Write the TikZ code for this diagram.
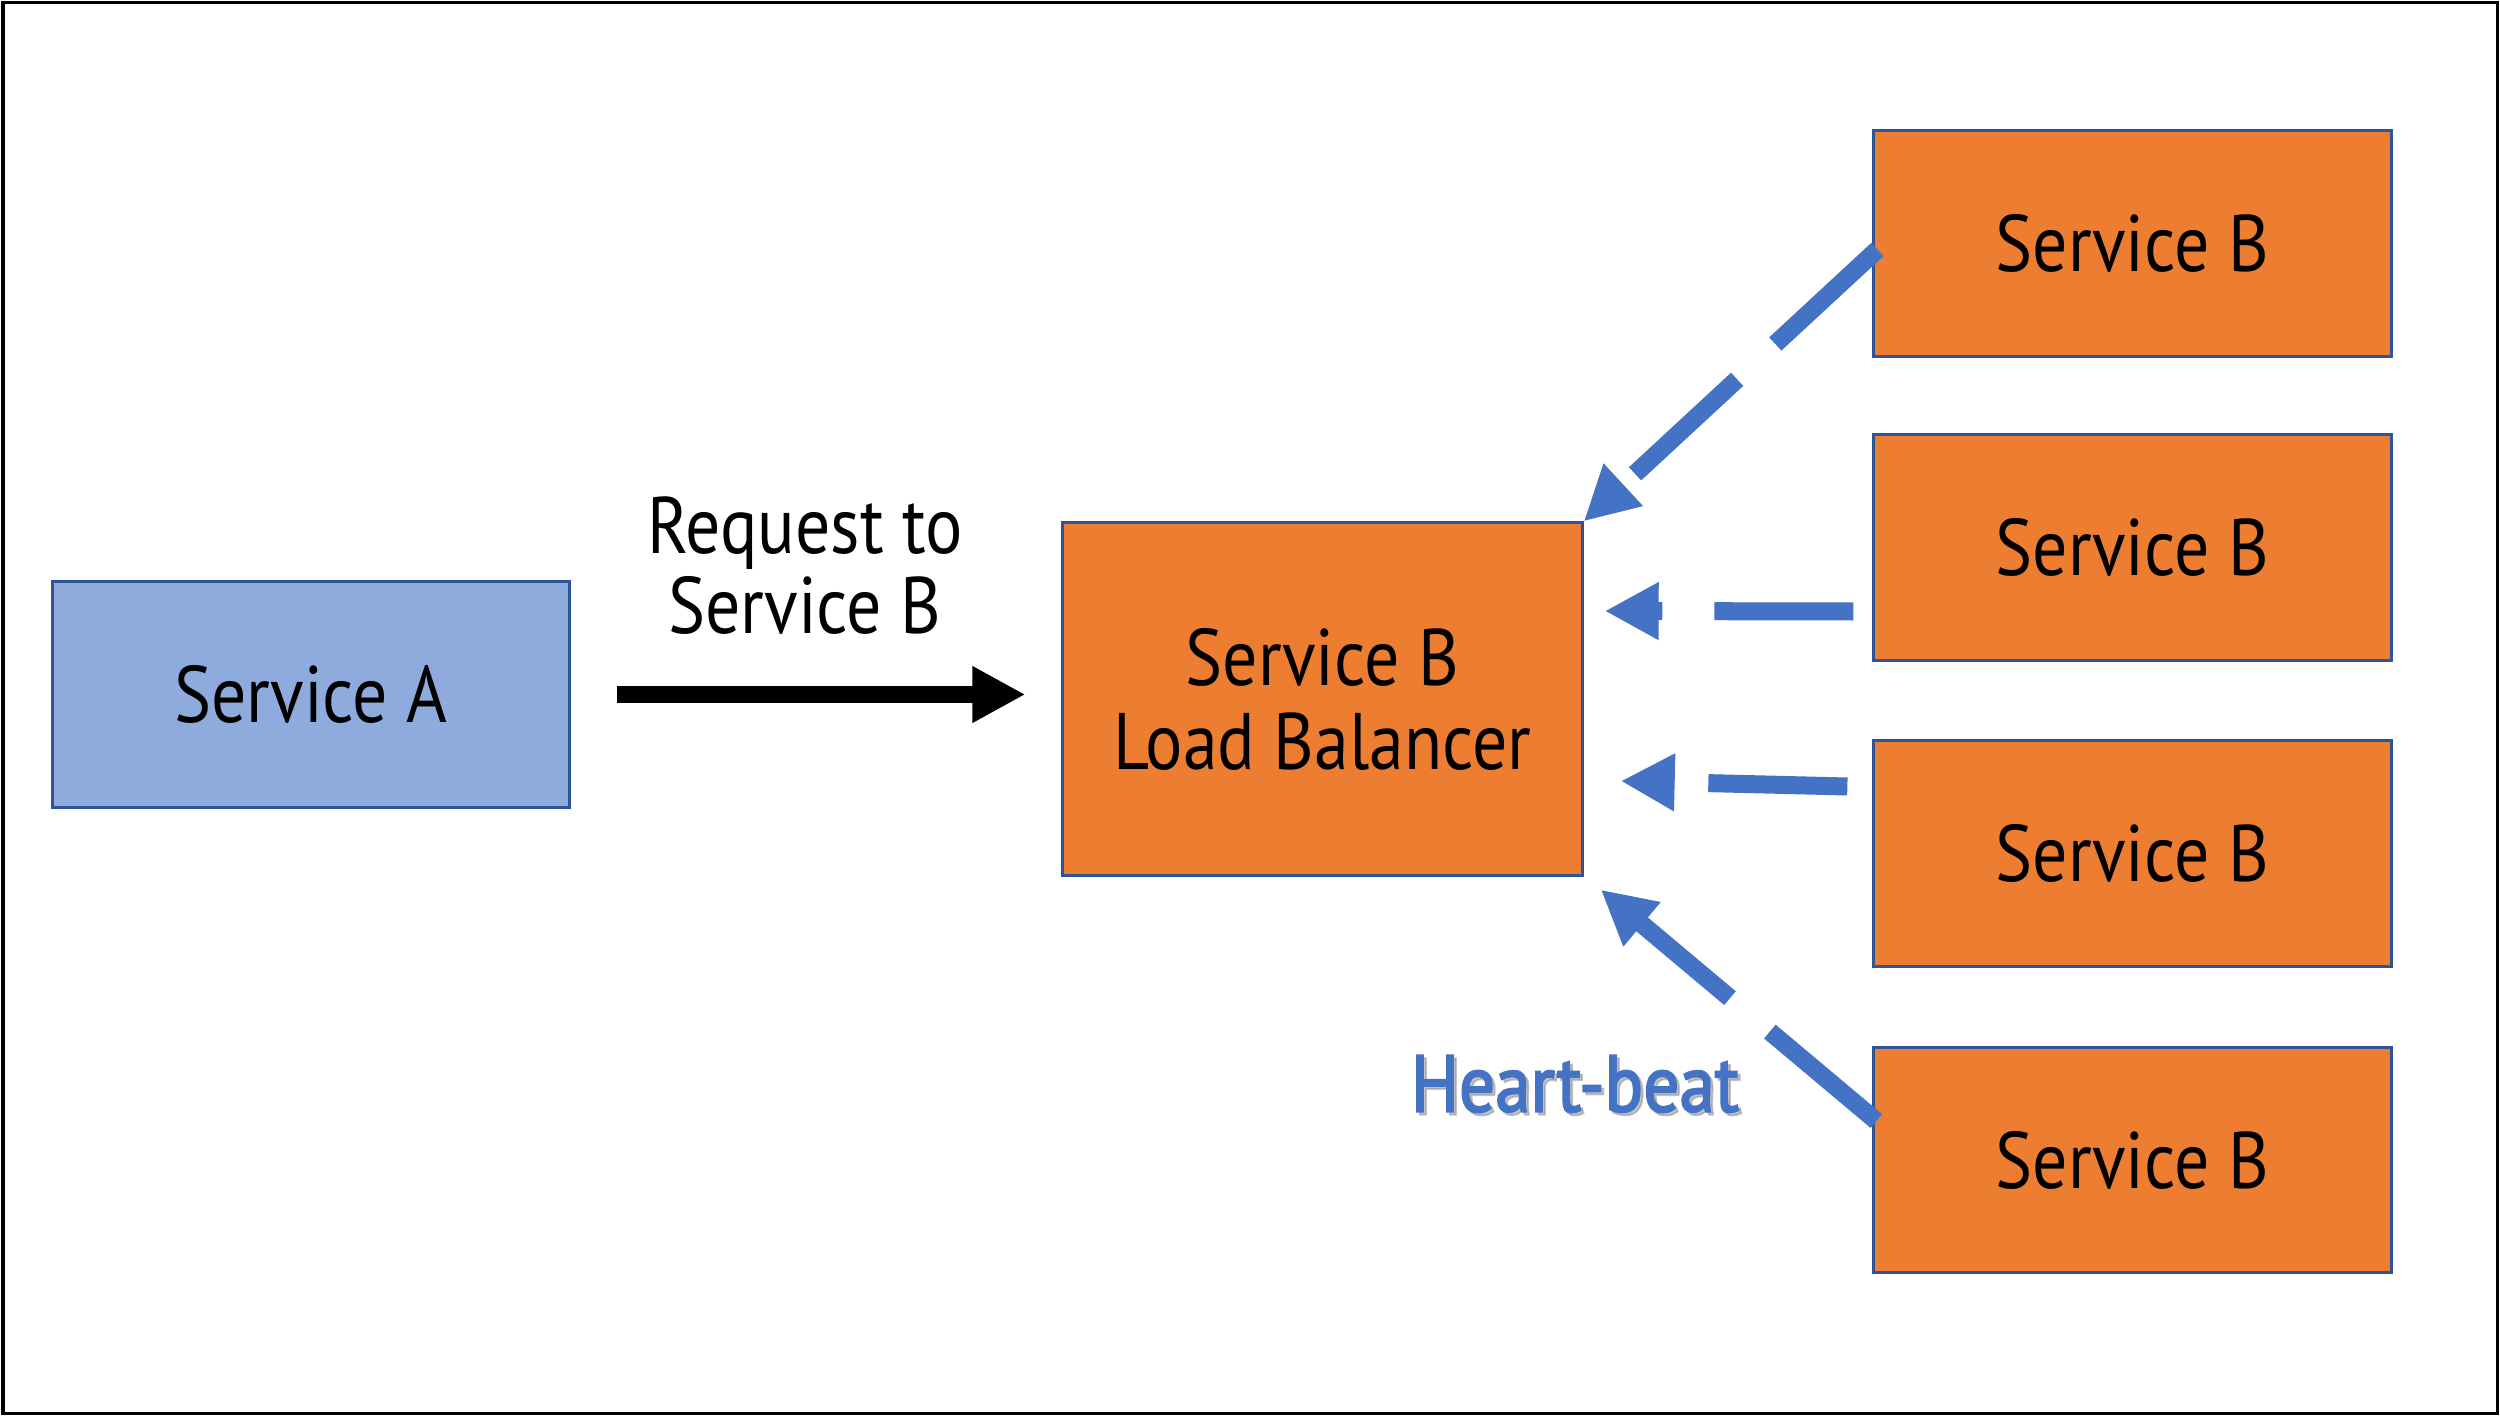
\documentclass[tikz,border=0pt]{standalone}
\usepackage{fontspec}
\setmainfont[FakeStretch=0.87]{PT Sans}
\newfontfamily\hbfont[FakeStretch=0.89,FakeBold=2.4]{PT Sans}
\usetikzlibrary{arrows.meta,calc}
\definecolor{orangeB}{HTML}{ED7D31}
\definecolor{edgeB}{HTML}{2F5597}
\definecolor{fillA}{HTML}{8FAADC}
\definecolor{beat}{HTML}{4472C4}
\begin{document}
\begin{tikzpicture}[x=0.01cm,y=-0.01cm,
  box/.style={draw=edgeB, line width=0.03cm, inner sep=0pt, align=center,
    font=\fontsize{22.8}{23.9}\selectfont},
  smallbox/.style={box, minimum width=5.17cm, minimum height=2.25cm},
  sbox/.style={smallbox, fill=orangeB},
  beatarrow/.style={draw=beat, line width=0.18cm, dash pattern=on 1.39cm off 0.52cm,
    -{Triangle[length=0.54cm,width=0.54cm]}},
  reqarrow/.style={draw=black, line width=0.175cm, -{Triangle[length=0.53cm,width=0.53cm]}},
  lbl/.style={inner sep=0pt, align=center, font=\fontsize{22.8}{22.8}\selectfont}
]
\useasboundingbox (0,0) rectangle (2500,1416);
\draw[line width=0.03cm] (3,3) rectangle (2497,1413);

\node[smallbox, fill=fillA] (sa) at (311,694.5) {Service A};
\node[box, fill=orangeB, minimum width=5.19cm, minimum height=3.52cm] (lb) at (1322.5,699) {Service B\\Load Balancer};
\node[sbox] (sb1) at (2132.5,243.5) {Service B};
\node[sbox] (sb2) at (2132.5,547.5) {Service B};
\node[sbox] (sb3) at (2132.5,853.5) {Service B};
\node[sbox] (sb4) at (2132.5,1160) {Service B};

\node[lbl] (req) at (805,566) {Request to\\Service B};

\node[lbl, font=\fontsize{22.8}{22.8}\selectfont\hbfont, text=black!45, opacity=0.5] (hbs) at (1578,1087) {Heart-beat};
\node[lbl, font=\fontsize{22.8}{22.8}\selectfont\hbfont, text=beat] (hb) at (1575,1084) {Heart-beat};

\coordinate (reqs) at ($(sa.east)+(46,0)$);
\coordinate (reqe) at ($(reqs -| lb.west)+(-36,0)$);
\draw[reqarrow] (reqs) -- (reqe);

\draw[beatarrow] ($(sb1.west)+(5,6)$) -- (lb.north east);
\draw[beatarrow] ($(sb2.west)+(-19,64)$) -- ($(lb.east)+(21,-88)$);
\draw[beatarrow] ($(sb3.west)+(-25,-67)$) -- ($(lb.east)+(37,82)$);
\draw[beatarrow] ($(sb4.west)+(4,-39)$) -- ($(lb.south east)+(17,13)$);
\end{tikzpicture}
\end{document}
